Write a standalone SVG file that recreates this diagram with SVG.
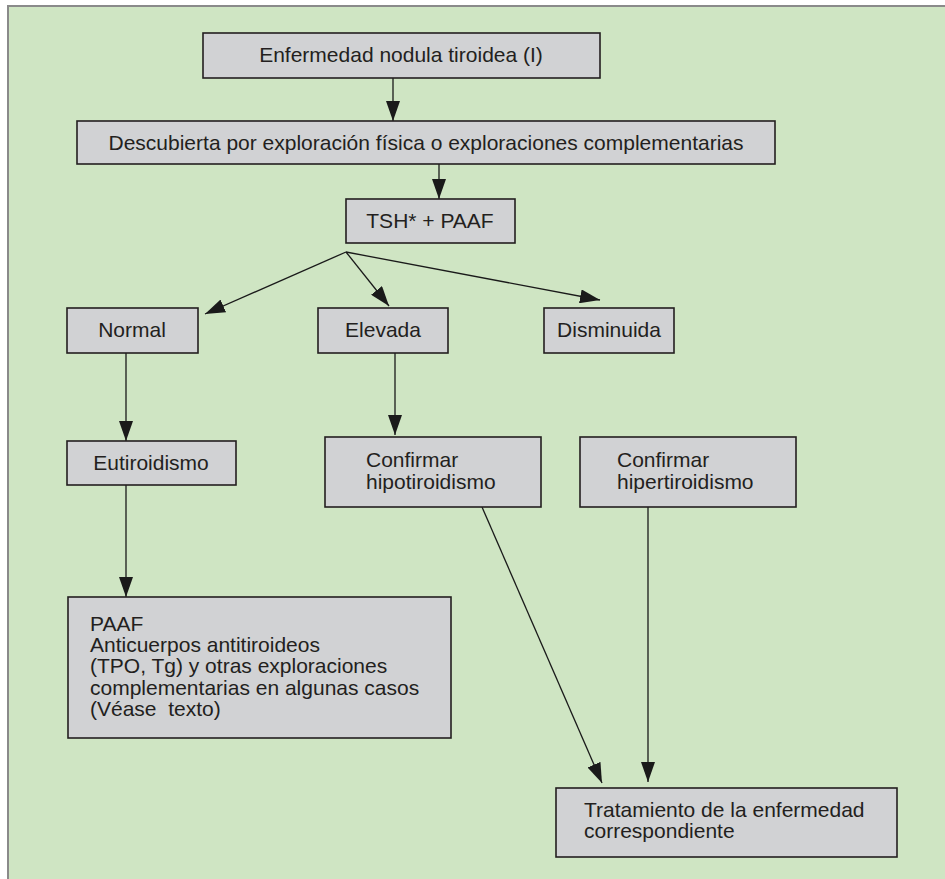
<svg xmlns="http://www.w3.org/2000/svg" width="945" height="879" viewBox="0 0 945 879">
<defs>
<marker id="ah" markerUnits="userSpaceOnUse" markerWidth="22" markerHeight="14" refX="20" refY="7" orient="auto">
<path d="M0,0 L20,7 L0,14 z" fill="#1a1a1a"/>
</marker>
<style>
.bx{fill:#d1d2d4;stroke:#231f20;stroke-width:1.6}
.t{font-family:"Liberation Sans",Arial,sans-serif;font-size:21px;fill:#231f20}
.c{text-anchor:middle}
.ln{stroke:#1a1a1a;stroke-width:1.3;fill:none;marker-end:url(#ah)}
</style>
</defs>
<rect x="8" y="6" width="945" height="880" fill="#cfe5c3"/>
<path d="M8,879 V6 H945" fill="none" stroke="#8a8a8a" stroke-width="2"/>
<g id="connectors">
<line class="ln" x1="393" y1="78" x2="393" y2="121"/>
<line class="ln" x1="439" y1="164" x2="439" y2="199"/>
<line class="ln" x1="346" y1="252" x2="205" y2="314"/>
<line class="ln" x1="346" y1="252" x2="389" y2="306"/>
<line class="ln" x1="346" y1="252" x2="600" y2="300"/>
<line class="ln" x1="126" y1="353" x2="126" y2="441"/>
<line class="ln" x1="395" y1="353" x2="395" y2="435"/>
<line class="ln" x1="126" y1="485" x2="126" y2="597"/>
<line class="ln" x1="482" y1="507" x2="602" y2="783"/>
<line class="ln" x1="648" y1="507" x2="648" y2="782"/>
</g>
<g id="n1"><rect class="bx" x="203" y="33" width="397" height="45"/><text class="t c" x="401" y="62">Enfermedad nodula tiroidea (I)</text></g>
<g id="n2"><rect class="bx" x="77" y="121" width="698" height="43"/><text class="t c" x="426" y="150">Descubierta por exploración física o exploraciones complementarias</text></g>
<g id="n3"><rect class="bx" x="346" y="199" width="169" height="44"/><text class="t c" x="430" y="228">TSH* + PAAF</text></g>
<g id="n4"><rect class="bx" x="67" y="308" width="131" height="45"/><text class="t c" x="132" y="337">Normal</text></g>
<g id="n5"><rect class="bx" x="318" y="308" width="130" height="45"/><text class="t c" x="383" y="337">Elevada</text></g>
<g id="n6"><rect class="bx" x="544" y="308" width="130" height="45"/><text class="t c" x="609" y="337">Disminuida</text></g>
<g id="n7"><rect class="bx" x="67" y="441" width="169" height="44"/><text class="t c" x="151" y="470">Eutiroidismo</text></g>
<g id="n8"><rect class="bx" x="325" y="437" width="216" height="70"/><text class="t" x="366" y="467">Confirmar</text><text class="t" x="366" y="489">hipotiroidismo</text></g>
<g id="n9"><rect class="bx" x="580" y="437" width="216" height="70"/><text class="t" x="617" y="467">Confirmar</text><text class="t" x="617" y="489">hipertiroidismo</text></g>
<g id="n10"><rect class="bx" x="68" y="597" width="383" height="141"/>
<text class="t" x="90" y="631">PAAF</text>
<text class="t" x="90" y="652">Anticuerpos antitiroideos</text>
<text class="t" x="90" y="673">(TPO, Tg) y otras exploraciones</text>
<text class="t" x="90" y="695">complementarias en algunas casos</text>
<text class="t" x="90" y="716" xml:space="preserve">(Véase  texto)</text></g>
<g id="n11"><rect class="bx" x="556" y="788" width="341" height="69"/><text class="t" x="584" y="817">Tratamiento de la enfermedad</text><text class="t" x="584" y="838">correspondiente</text></g>
</svg>
